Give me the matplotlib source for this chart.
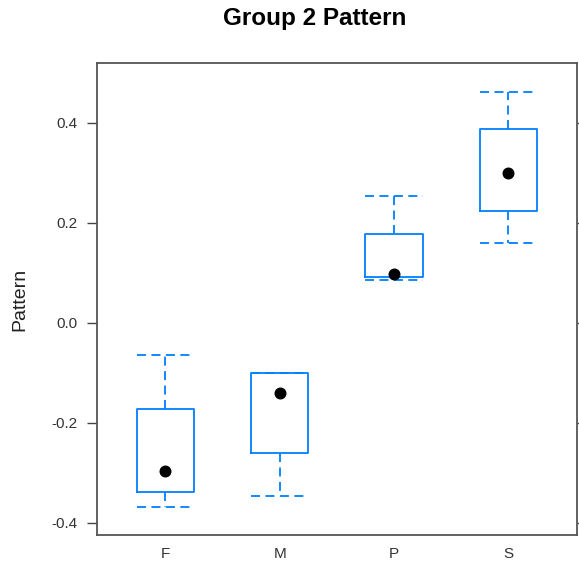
import matplotlib
matplotlib.use("Agg")
import matplotlib.pyplot as plt

plt.rcParams["font.family"] = ["Liberation Sans", "DejaVu Sans"]

# Box statistics per group
groups = ["F", "M", "P", "S"]
whisker_low = [-0.368, -0.346, 0.085, 0.159]
box_low = [-0.339, -0.261, 0.091, 0.223]
medians = [-0.297, -0.140, 0.097, 0.300]
box_high = [-0.173, -0.100, 0.177, 0.387]
whisker_high = [-0.065, -0.100, 0.253, 0.461]

blue = "#0080ff"

fig = plt.figure(figsize=(5.79, 5.63), dpi=100)
ax = fig.add_axes([0.167, 0.0497, 0.8295, 0.838])

stats = []
for i, g in enumerate(groups):
    stats.append({
        "label": g,
        "whislo": whisker_low[i],
        "q1": box_low[i],
        "med": medians[i],
        "q3": box_high[i],
        "whishi": whisker_high[i],
        "fliers": [],
    })

pos = list(range(1, len(groups) + 1))
dash = (0, (5, 3))
ax.bxp(stats, positions=pos, widths=0.5, showfliers=False,
       boxprops=dict(color=blue, linewidth=1.3),
       whiskerprops=dict(color=blue, linewidth=1.3, linestyle=dash),
       capprops=dict(color=blue, linewidth=1.3, linestyle=dash),
       medianprops=dict(linewidth=0), capwidths=0.5)
ax.scatter(pos, medians, s=58, color="black", zorder=5)

ax.set_xlim(0.4, 4.6)
ax.set_ylim(-0.425, 0.519)
ax.set_yticks([-0.4, -0.2, 0.0, 0.2, 0.4])
ax.set_yticklabels(["-0.4", "-0.2", "0.0", "0.2", "0.4"])
ax.set_xticks(pos)
ax.set_xticklabels(groups)
ax.tick_params(axis="y", direction="out", length=7.5, width=1.0, color="#444444",
               labelsize=11, right=True, labelcolor="#333333", pad=6.5)
ax.tick_params(axis="x", length=0, labelsize=11, pad=8.5, labelcolor="#333333")
for sp in ax.spines.values():
    sp.set_color("#555555")
    sp.set_linewidth(1.3)

ax.set_ylabel("Pattern", fontsize=14, color="#222222")
ax.yaxis.set_label_coords(-0.143, 0.5)
fig.text(315 / 579, 1 - 18 / 563, "Group 2 Pattern", ha="center", va="center",
         fontsize=17.5, fontweight="bold")

fig.savefig("out.png", dpi=100)
